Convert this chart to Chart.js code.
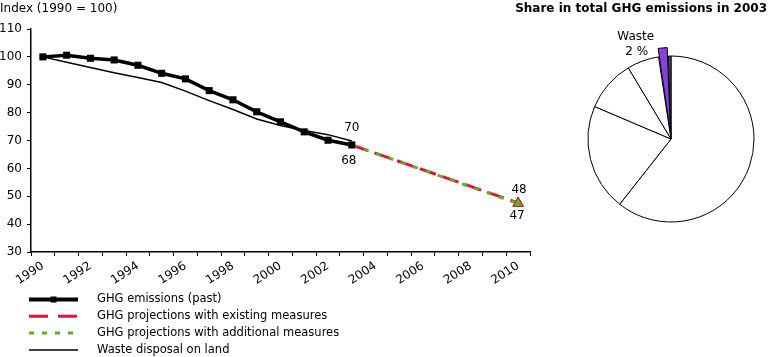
<!DOCTYPE html>
<html>
<head>
<meta charset="utf-8">
<script src="https://cdn.jsdelivr.net/npm/chart.js@4"></script>
<style>
  html, body { margin: 0; padding: 0; background: #fff; }
  #wrap { position: relative; width: 768px; height: 357px; overflow: hidden; background: #fff; }
  #line { position: absolute; left: 0; top: 0; }
  #pie { position: absolute; left: 440px; top: 0; }
</style>
</head>
<body>
<div id="wrap">
  <canvas id="line" width="768" height="357" style="width:768px;height:357px"></canvas>
  <canvas id="pie" width="328" height="240" style="width:328px;height:240px"></canvas>
</div>
<script>
// ---------- data ----------
const years = ['1990','1991','1992','1993','1994','1995','1996','1997','1998','1999',
               '2000','2001','2002','2003','2004','2005','2006','2007','2008','2009','2010'];
const ghgPast = [100, 100.6, 99.5, 98.9, 97.0, 94.1, 92.1, 87.9, 84.6, 80.3, 76.7, 73.1, 70.1, 68.4];
const wasteDisposal = [100, 98.1, 96.2, 94.3, 92.6, 90.8, 87.7, 84.3, 81.1, 77.7, 75.4, 73.6, 72.1, 69.8];
const projectionYears = ['2003', '2010'];
const existingMeasures = [68.4, 47.6];
const additionalMeasures = [68.4, 47.4];
const yTickValues = [30, 40, 50, 60, 70, 80, 90, 100, 110];
const seriesNames = ['GHG emissions (past)', 'GHG projections with existing measures',
                     'GHG projections with additional measures', 'Waste disposal on land'];
const yAxisTitle = 'Index (1990 = 100)';

const pieTitle = 'Share in total GHG emissions in 2003';
const pieSectors = ['Energy', 'Transport', 'Industry', 'Agriculture', 'Waste', 'Other'];
const pieShares = [60.6, 20.8, 10.0, 6.2, 1.9, 0.5];

// ---------- styling ----------
const FONT = '"DejaVu Sans", Verdana, sans-serif';
const RED = '#e0143c';
const GREEN = '#5cb21e';
const PURPLE = '#8a3de0';

const legendPlugin = {
  id: 'customLegend',
  afterDraw(chart) {
    const ctx = chart.ctx;
    const ca = chart.chartArea;
    const order = [0, 2, 1, 3];
    order.forEach((di, r) => {
      const ds = chart.data.datasets[di];
      const y = ca.bottom + 47.5 + r * 16.8;
      ctx.save();
      ctx.strokeStyle = ds.borderColor;
      ctx.lineWidth = di === 0 ? 4 : ds.borderWidth;
      ctx.setLineDash(di === 2 ? [19, 10] : (ds.borderDash || []));
      ctx.beginPath();
      ctx.moveTo(29, y);
      ctx.lineTo(78, y);
      ctx.stroke();
      ctx.setLineDash([]);
      if (ds.pointStyle === 'rect') {
        ctx.fillStyle = ds.pointBackgroundColor;
        ctx.fillRect(50.5, y - 3, 6, 6);
      }
      ctx.fillStyle = '#000';
      ctx.font = '11.5px ' + FONT;
      ctx.textBaseline = 'middle';
      ctx.textAlign = 'left';
      ctx.fillText(ds.label, 97, y);
      ctx.restore();
    });
  }
};

const valueLabels = {
  id: 'valueLabels',
  afterDatasetsDraw(chart) {
    const ctx = chart.ctx;
    const put = (di, values, dx, dy) => {
      const meta = chart.getDatasetMeta(di);
      const pt = meta.data[meta.data.length - 1];
      ctx.fillText(String(Math.round(values[values.length - 1])), pt.x + dx, pt.y + dy);
    };
    ctx.save();
    ctx.fillStyle = '#000';
    ctx.font = '12px ' + FONT;
    ctx.textAlign = 'center';
    ctx.textBaseline = 'middle';
    put(3, wasteDisposal, 0, -13);
    put(0, ghgPast, -3, 16);
    put(2, existingMeasures, 1, -13);
    put(1, additionalMeasures, -1, 12);
    ctx.restore();
  }
};

const toPoints = (xs, ys) => xs.map((x, i) => ({ x: x, y: ys[i] }));

new Chart(document.getElementById('line'), {
  type: 'line',
  data: {
    labels: years,
    datasets: [
      {
        label: seriesNames[0], data: ghgPast,
        borderColor: '#000', borderWidth: 3.5, tension: 0,
        pointStyle: 'rect', pointRadius: 5, pointBackgroundColor: '#000', pointBorderColor: '#000', pointBorderWidth: 0
      },
      {
        label: seriesNames[2], data: toPoints(projectionYears, additionalMeasures),
        borderColor: GREEN, borderWidth: 3, borderDash: [5, 8], tension: 0,
        pointStyle: 'triangle', pointRadius: [0, 6], pointBackgroundColor: GREEN, pointBorderColor: RED, pointBorderWidth: 1
      },
      {
        label: seriesNames[1], data: toPoints(projectionYears, existingMeasures),
        borderColor: RED, borderWidth: 3, borderDash: [17, 7], tension: 0,
        pointStyle: 'triangle', pointRadius: [0, 6], pointBackgroundColor: RED, pointBorderColor: RED, pointBorderWidth: 1
      },
      {
        label: seriesNames[3], data: wasteDisposal,
        borderColor: '#000', borderWidth: 1.5, tension: 0, pointRadius: 0
      }
    ]
  },
  options: {
    responsive: false,
    animation: false,
    events: [],
    layout: { padding: { left: 0, right: 238, top: 0, bottom: 70 } },
    plugins: {
      legend: { display: false },
      tooltip: { enabled: false },
      title: {
        display: true, text: yAxisTitle, align: 'start', color: '#000',
        font: { family: FONT, size: 12, weight: 'normal' },
        padding: { top: 2, bottom: 12.6 }
      }
    },
    scales: {
      x: {
        type: 'category',
        offset: true,
        afterFit: s => { s.height = 35; },
        grid: { display: true, drawOnChartArea: false, drawTicks: true, tickLength: 4, color: '#000', offset: true },
        border: { display: true, color: '#000', width: 1.5 },
        ticks: {
          autoSkip: false, minRotation: 33, maxRotation: 33, padding: 3, color: '#000',
          font: { family: FONT, size: 12 },
          callback: (v, i) => (i % 2 === 0 ? years[i] : '')
        }
      },
      y: {
        min: yTickValues[0], max: yTickValues[yTickValues.length - 1],
        afterFit: s => { s.width = 31; },
        afterBuildTicks: s => { s.ticks = yTickValues.map(v => ({ value: v })); },
        grid: { display: true, drawOnChartArea: false, drawTicks: true, tickLength: 4, color: '#000' },
        border: { display: true, color: '#000', width: 1.5 },
        ticks: { padding: 5, color: '#000', font: { family: FONT, size: 12 } }
      }
    }
  },
  plugins: [legendPlugin, valueLabels]
});

const wasteIndex = pieSectors.indexOf('Waste');
const pieLabels = {
  id: 'pieLabels',
  afterDraw(chart) {
    const ctx = chart.ctx;
    ctx.save();
    ctx.fillStyle = '#000';
    ctx.font = 'bold 12px ' + FONT;
    ctx.textAlign = 'right';
    ctx.textBaseline = 'middle';
    ctx.fillText(pieTitle, chart.width - 1, 9);
    const arc = chart.getDatasetMeta(0).data[wasteIndex];
    const mid = (arc.startAngle + arc.endAngle) / 2;
    const shift = (arc.options.offset || 0) / 2;
    const ax = arc.x + Math.cos(arc.startAngle) * arc.outerRadius + Math.cos(mid) * shift;
    const ay = arc.y + Math.sin(arc.startAngle) * arc.outerRadius + Math.sin(mid) * shift;
    ctx.font = '12px ' + FONT;
    ctx.textAlign = 'center';
    ctx.fillText(pieSectors[wasteIndex], ax - 22, ay - 11);
    ctx.fillText(Math.round(pieShares[wasteIndex]) + ' %', ax - 21, ay + 4);
    ctx.restore();
  }
};

new Chart(document.getElementById('pie'), {
  type: 'pie',
  data: {
    labels: pieSectors,
    datasets: [{
      data: pieShares,
      backgroundColor: pieSectors.map(s => s === 'Waste' ? PURPLE : (s === 'Other' ? '#555' : '#fff')),
      borderColor: '#000',
      borderWidth: 1,
      hoverBorderWidth: 1,
      offset: pieSectors.map(s => s === 'Waste' ? 18 : 0),
      hoverOffset: 0
    }]
  },
  options: {
    responsive: false,
    animation: false,
    events: [],
    layout: { padding: { left: 135, right: 1, top: 46.5, bottom: 8.5 } },
    plugins: { legend: { display: false }, tooltip: { enabled: false }, title: { display: false } }
  },
  plugins: [pieLabels]
});
</script>
</body>
</html>
